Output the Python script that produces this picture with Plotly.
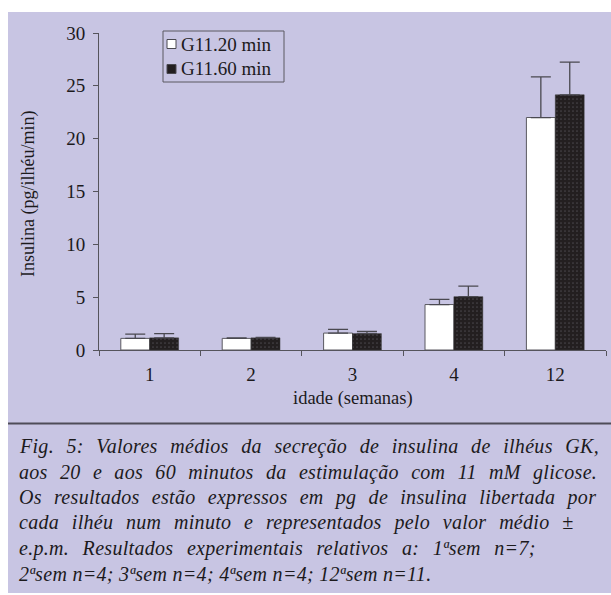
import plotly.graph_objects as go

# ---- data ----
categories = ["1", "2", "3", "4", "12"]
series_names = ["G11.20 min", "G11.60 min"]
g20_values = [1.1, 1.1, 1.6, 4.3, 22.0]
g20_errors = [0.4, 0.05, 0.35, 0.5, 3.85]
g60_values = [1.15, 1.15, 1.55, 5.05, 24.15]
g60_errors = [0.4, 0.05, 0.2, 1.0, 3.1]
y_ticks = [0, 5, 10, 15, 20, 25, 30]
y_title = "Insulina (pg/ilhéu/min)"
x_title = "idade (semanas)"
caption_lines = [
    "Fig. 5: Valores médios da secreção de insulina de ilhéus GK,",
    "aos 20 e aos 60 minutos da estimulação com 11 mM glicose.",
    "Os resultados estão expressos em pg de insulina libertada por",
    "cada ilhéu num minuto e representados pelo valor médio ±",
    "e.p.m. Resultados experimentais relativos a: 1ªsem n=7;",
    "2ªsem n=4; 3ªsem n=4; 4ªsem n=4; 12ªsem n=11.",
]
# word spacing (px) per caption line, to imitate the justified typesetting
caption_word_spacing = [7.25, 7.0, 6.9, 7.4, 8.2, 0.0]

# ---- layout geometry ----
W, H = 611, 595
ML, MR, MT, MB = 99, 5, 33, 245
PW = W - ML - MR
PH = H - MT - MB
BG = "#c8c5e3"
INK = "#1c1a1c"
AX = "#55545c"
SERIF = "Liberation Serif, Times New Roman, serif"


def px(x):
    return (x - ML) / PW


def py(y):
    return (H - MB - y) / PH


fig = go.Figure()
fig.add_trace(go.Bar(
    x=categories, y=g20_values, name=series_names[0],
    marker=dict(color="white", line=dict(color="#5a5960", width=1)),
    error_y=dict(type="data", array=g20_errors, arrayminus=[0] * len(g20_errors),
                 symmetric=False, color="#4a4950", thickness=1.3, width=10),
    showlegend=False,
))
fig.add_trace(go.Bar(
    x=categories, y=g60_values, name=series_names[1],
    marker=dict(color=INK, line=dict(color="#3a3a3a", width=0.5),
                pattern=dict(shape=".", fgcolor="#6a6870", bgcolor="#231f20",
                             size=4, solidity=0.15)),
    error_y=dict(type="data", array=g60_errors, arrayminus=[0] * len(g60_errors),
                 symmetric=False, color="#4a4950", thickness=1.3, width=10),
    showlegend=False,
))

shapes = []
shapes.append(dict(type="rect", xref="paper", yref="paper",
                   x0=px(8), x1=px(611), y0=py(12), y1=py(593),
                   fillcolor=BG, line=dict(width=0), layer="below"))
shapes.append(dict(type="line", xref="paper", yref="paper",
                   x0=px(8), x1=px(611), y0=py(423.5), y1=py(423.5),
                   line=dict(color="#4e4c58", width=2)))
shapes.append(dict(type="rect", xref="paper", yref="paper",
                   x0=px(163), x1=px(284), y0=py(31), y1=py(82),
                   line=dict(color="#5a5960", width=1), fillcolor=BG))
leg_y = [44, 69]
leg_fill = ["white", "#231f20"]
for yy, fc in zip(leg_y, leg_fill):
    shapes.append(dict(type="rect", xref="paper", yref="paper",
                       x0=px(167), x1=px(176), y0=py(yy - 4.5), y1=py(yy + 4.5),
                       line=dict(color="#4a4950", width=1), fillcolor=fc))

annotations = []
for yy, name in zip(leg_y, series_names):
    annotations.append(dict(xref="paper", yref="paper", x=px(179), y=py(yy),
                            xanchor="left", yanchor="middle", text=name,
                            showarrow=False, font=dict(family=SERIF, size=19, color=INK)))
annotations.append(dict(xref="paper", yref="paper", x=px(29), y=py(194),
                        xanchor="center", yanchor="middle", text=y_title, textangle=-90,
                        showarrow=False, font=dict(family=SERIF, size=18, color=INK)))
annotations.append(dict(xref="paper", yref="paper", x=px(353), y=py(398),
                        xanchor="center", yanchor="middle", text=x_title,
                        showarrow=False, font=dict(family=SERIF, size=18.5, color=INK)))
cap_y0, cap_dy = 447, 25.3
for i, (line, ws) in enumerate(zip(caption_lines, caption_word_spacing)):
    txt = ('<span style="letter-spacing:0.3px;word-spacing:%.2fpx"><i>%s</i></span>'
           % (ws, line))
    annotations.append(dict(xref="paper", yref="paper", x=px(17), y=py(cap_y0 + i * cap_dy),
                            xanchor="left", yanchor="middle", text=txt,
                            showarrow=False, font=dict(family=SERIF, size=20, color=INK)))

fig.update_layout(
    width=W, height=H,
    margin=dict(l=ML, r=MR, t=MT, b=MB),
    paper_bgcolor="white", plot_bgcolor="rgba(0,0,0,0)",
    barmode="group", bargap=0.43, bargroupgap=0,
    shapes=shapes, annotations=annotations,
    showlegend=False,
    xaxis=dict(type="category", showline=True, linecolor=AX, linewidth=1,
               ticks="outside", tickson="boundaries", ticklen=5, tickcolor=AX,
               showgrid=False, zeroline=False, ticklabelstandoff=7,
               tickfont=dict(family=SERIF, size=19, color=INK)),
    yaxis=dict(range=[0, 30], tickvals=y_ticks, showline=True, linecolor=AX, linewidth=1,
               ticks="outside", ticklen=5, tickcolor=AX, showgrid=False, zeroline=False,
               ticklabelstandoff=4,
               tickfont=dict(family=SERIF, size=19, color=INK)),
)

fig.write_html("out.html")
